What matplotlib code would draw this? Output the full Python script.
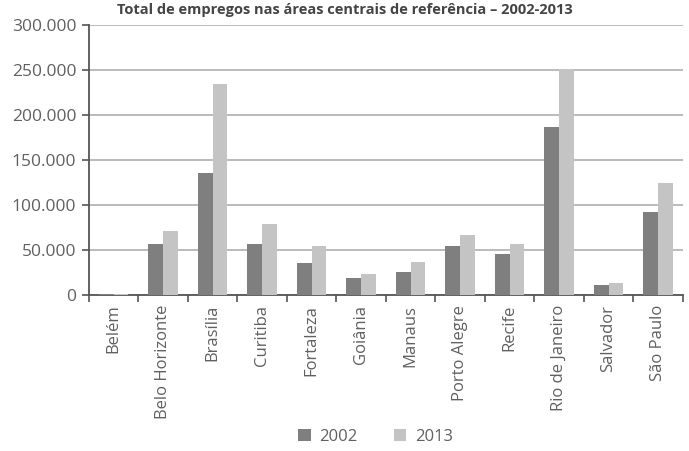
import numpy as np
import matplotlib.pyplot as plt
from matplotlib.ticker import FuncFormatter

plt.rcParams['font.family'] = ['Open Sans', 'DejaVu Sans']

cidades = ['Belém', 'Belo Horizonte', 'Brasília', 'Curitiba', 'Fortaleza', 'Goiânia',
           'Manaus', 'Porto Alegre', 'Recife', 'Rio de Janeiro', 'Salvador', 'São Paulo']
empregos_2002 = [1500, 56500, 135500, 57000, 35000, 19000, 25000, 54000, 45000, 187000, 11000, 92000]
empregos_2013 = [800, 71000, 234500, 78500, 54000, 23000, 37000, 67000, 57000, 251000, 13500, 124000]
titulo = 'Total de empregos nas áreas centrais de referência – 2002-2013'

cor_2002 = '#7f7f7f'
cor_2013 = '#c4c4c4'
cor_texto = '#606060'

fig = plt.figure(figsize=(6.89, 4.51), dpi=100)
ax = fig.add_axes([0.129, 0.346, 0.862, 0.599])

x = np.arange(len(cidades))
w = 0.3
ax.bar(x - w / 2, empregos_2002, w, color=cor_2002, label='2002', zorder=3)
ax.bar(x + w / 2, empregos_2013, w, color=cor_2013, label='2013', zorder=3)

ax.set_xlim(-0.5, len(cidades) - 0.5)
ax.set_ylim(0, 300000)
ax.set_yticks(np.arange(0, 300001, 50000))
ax.yaxis.set_major_formatter(FuncFormatter(lambda v, p: f'{int(v):,}'.replace(',', '.')))
ax.grid(axis='y', color='#b5b5b5', lw=1.3, zorder=0)

ax.set_xticks(x)
ax.set_xticklabels(cidades, rotation=90, va='top', ha='center')
ax.set_xticks(np.arange(-0.5, len(cidades)), minor=True)
ax.tick_params(axis='x', which='major', length=0, pad=7, labelsize=12, labelcolor=cor_texto)
ax.tick_params(axis='x', which='minor', length=5, width=1.2, color='#555555', direction='out')
ax.tick_params(axis='y', length=5, width=1.2, color='#555555', labelsize=12.5,
               labelcolor=cor_texto, pad=4)

for s in ['top', 'right']:
    ax.spines[s].set_visible(False)
for s in ['left', 'bottom']:
    ax.spines[s].set_color('#555555')
    ax.spines[s].set_linewidth(1.3)

fig.legend(loc='center', bbox_to_anchor=(0.545, 0.031), ncol=2, frameon=False,
           fontsize=12, labelcolor=cor_texto, handlelength=0.75, handleheight=0.75,
           columnspacing=2.2, handletextpad=0.5)

fig.text(0.5, 0.978, titulo, ha='center', va='center', fontsize=10.5,
         fontweight='bold', color='#444444')

fig.savefig('out.png', dpi=100)
